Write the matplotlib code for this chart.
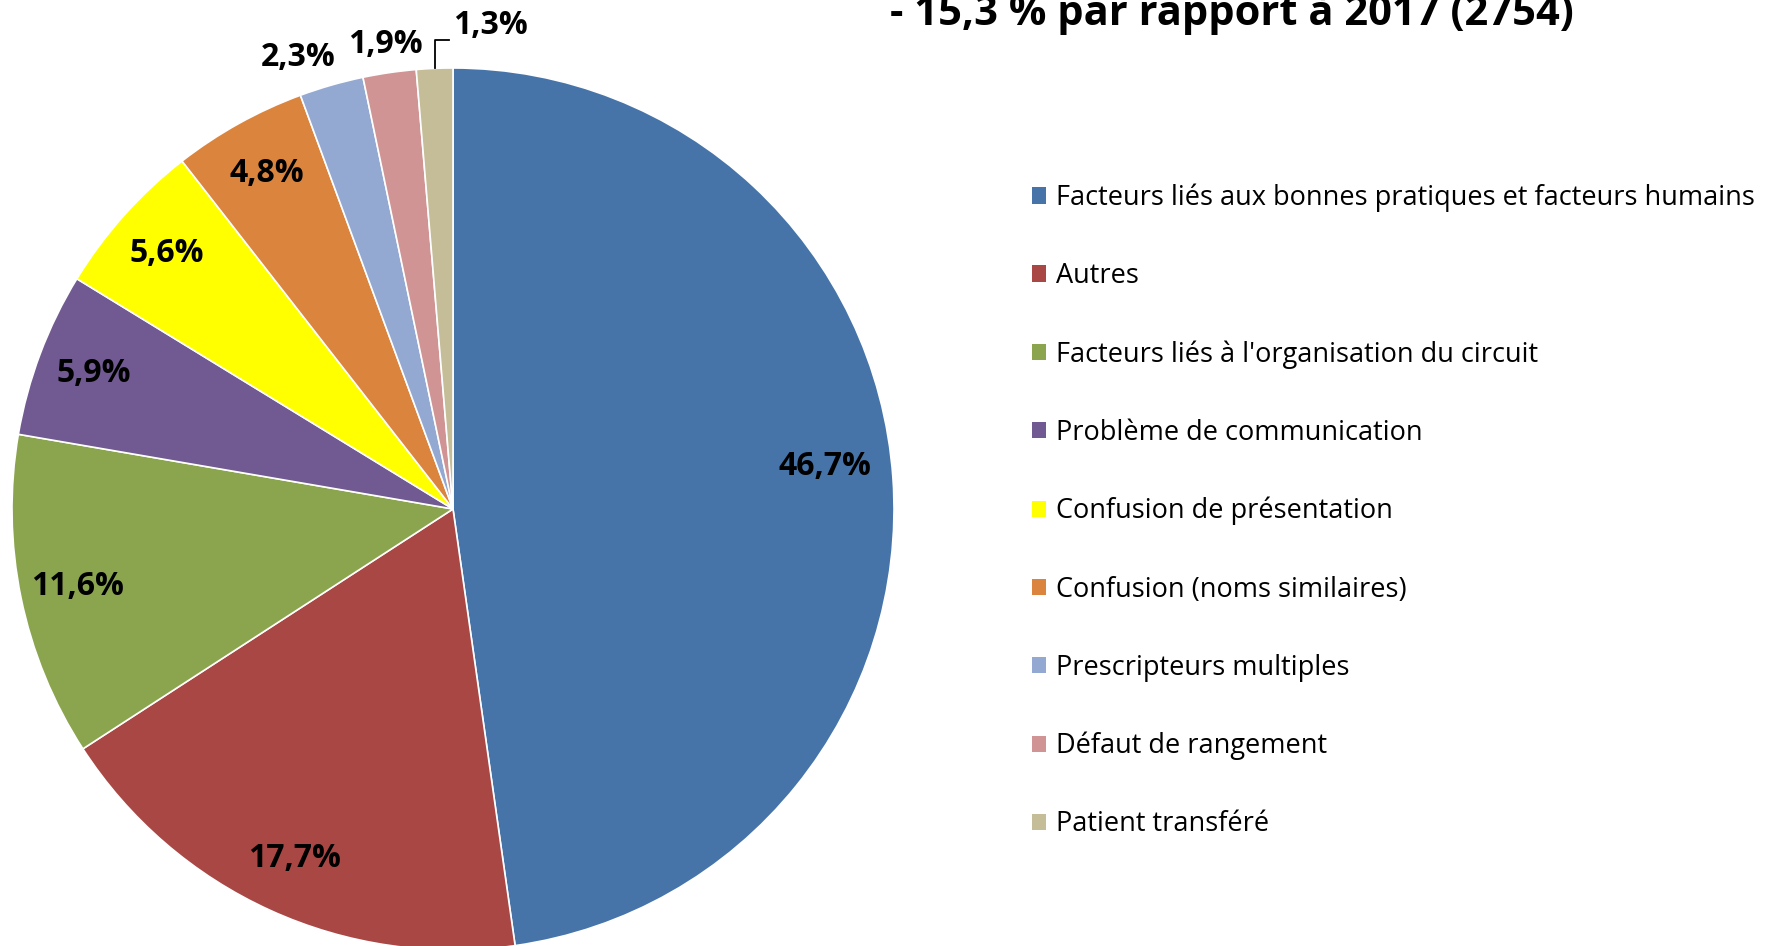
import matplotlib
matplotlib.use("Agg")
import matplotlib.pyplot as plt
import numpy as np
from matplotlib.patches import Patch

plt.rcParams['font.family'] = ['Open Sans', 'DejaVu Sans']

categories = [
    "Facteurs liés aux bonnes pratiques et facteurs humains",
    "Autres",
    "Facteurs liés à l'organisation du circuit",
    "Problème de communication",
    "Confusion de présentation",
    "Confusion (noms similaires)",
    "Prescripteurs multiples",
    "Défaut de rangement",
    "Patient transféré",
]
values = [46.7, 17.7, 11.6, 5.9, 5.6, 4.8, 2.3, 1.9, 1.3]
labels = ["46,7%", "17,7%", "11,6%", "5,9%", "5,6%", "4,8%", "2,3%", "1,9%", "1,3%"]
colors = ["#4674A8", "#A94745", "#8BA54F", "#705A91", "#FFFF00",
          "#DB843D", "#94A9D1", "#D09494", "#C5BD97"]
title = "- 15,3 % par rapport à 2017 (2754)"

W, H = 1773, 946
fig = plt.figure(figsize=(W / 100, H / 100), dpi=100)
ax = fig.add_axes([0, 0, 1, 1])

cx, cy, R = 453, H - 509, 441
wedges, _ = ax.pie(values, colors=colors, startangle=90, counterclock=False,
                   center=(cx, cy), radius=R,
                   wedgeprops=dict(edgecolor="white", linewidth=1.2))
ax.set_xlim(0, W)
ax.set_ylim(0, H)
ax.set_aspect("equal")
ax.axis("off")

lab_fs = 23
# data labels: inside for big slices, outside for the small ones
for i, w in enumerate(wedges):
    mid = np.deg2rad((w.theta1 + w.theta2) / 2)
    r = 0.87 * R if i < 6 else 1.065 * R
    x, y = cx + r * np.cos(mid), cy + r * np.sin(mid)
    if i == 0:
        x -= 11
        y += 15
    if i == 6:
        x -= 25
    if i == 8:
        # leader line up then right
        ex, ey = cx + R * np.cos(mid), cy + R * np.sin(mid)
        ax.plot([ex, ex, ex + 14], [ey, H - 40, H - 40], color="black", lw=1.3)
        ax.text(ex + 18, H - 25, labels[i], ha="left", va="center",
                fontsize=lab_fs, fontweight="bold")
        continue
    ax.text(x, y, labels[i], ha="center", va="center",
            fontsize=lab_fs, fontweight="bold")

ax.text(1232, H - 25, title, ha="center", va="baseline",
        fontsize=30, fontweight="bold")

handles = [Patch(facecolor=c) for c in colors]
leg = ax.legend(handles, categories, loc="upper left",
                bbox_to_anchor=(1018 / W, 1 - 170 / H), frameon=False,
                fontsize=19.5, handlelength=0.55, handleheight=0.55,
                handletextpad=0.35, labelspacing=1.85, borderpad=0)

fig.savefig("out.png", dpi=100)
